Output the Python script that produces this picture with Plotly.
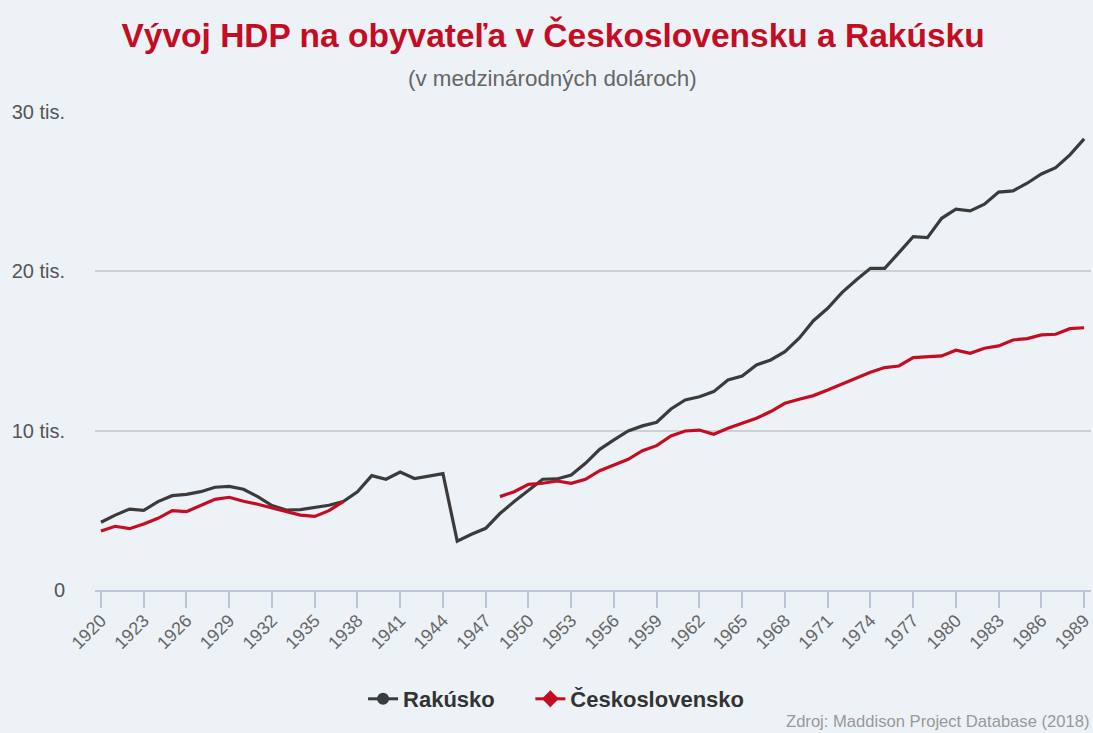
import plotly.graph_objects as go

years = list(range(1920, 1990))

rakusko = [4.25, 4.7, 5.08, 5.0, 5.55, 5.92, 6.0, 6.17, 6.45, 6.5,
           6.32, 5.86, 5.3, 5.02, 5.05, 5.17, 5.32, 5.55, 6.17, 7.18,
           6.95, 7.4, 7.0, 7.15, 7.3, 3.07, 3.5, 3.87, 4.8, 5.55,
           6.28, 6.95, 6.97, 7.22, 7.95, 8.83, 9.42, 9.98, 10.3, 10.53,
           11.36, 11.93, 12.13, 12.45, 13.18, 13.43, 14.12, 14.44, 14.96, 15.8,
           16.9, 17.68, 18.66, 19.46, 20.19, 20.19, 21.17, 22.18, 22.11, 23.33,
           23.9, 23.79, 24.21, 24.97, 25.05, 25.53, 26.11, 26.51, 27.31, 28.31]

ceskoslovensko = [3.7, 4.0, 3.85, 4.14, 4.5, 4.98, 4.92, 5.3, 5.69, 5.82,
                  5.57, 5.38, 5.17, 4.92, 4.7, 4.62, 4.98, 5.55, None, None,
                  None, None, None, None, None, None, None, None, 5.86, 6.17,
                  6.63, 6.7, 6.84, 6.7, 6.95, 7.49, 7.85, 8.2, 8.74, 9.06,
                  9.67, 9.98, 10.04, 9.77, 10.15, 10.46, 10.78, 11.2, 11.72, 11.97,
                  12.2, 12.55, 12.93, 13.29, 13.67, 13.96, 14.06, 14.58, 14.65, 14.69,
                  15.05, 14.86, 15.17, 15.32, 15.69, 15.78, 16.01, 16.05, 16.4, 16.46]

series_names = ["Rakúsko", "Československo"]
y_tick_vals = [0, 10000, 20000, 30000]
y_tick_text = ["0", "10 tis.", "20 tis.", "30 tis."]
x_tick_vals = list(range(1920, 1990, 3))

title_text = "Vývoj HDP na obyvateľa v Československu a Rakúsku"
subtitle_text = "(v medzinárodných dolároch)"
source_text = "Zdroj: Maddison Project Database (2018)"

BLACK = "#3b3b3b"
RED = "#c40d22"
BG = "#edf2f7"
FONT = "Liberation Sans, Arial, sans-serif"

fig = go.Figure()
fig.add_trace(go.Scatter(x=years, y=[v * 1000 for v in rakusko], mode="lines",
                         line=dict(color=BLACK, width=3.2), showlegend=False,
                         name=series_names[0]))
fig.add_trace(go.Scatter(x=years, y=[None if v is None else v * 1000 for v in ceskoslovensko],
                         mode="lines", line=dict(color=RED, width=3.2), showlegend=False,
                         connectgaps=False, name=series_names[1]))
# legend entries
fig.add_trace(go.Scatter(x=[None], y=[None], mode="lines+markers",
                         name=f"<b>{series_names[0]}</b>" + "\u00a0" * 5,
                         line=dict(color=BLACK, width=3),
                         marker=dict(symbol="circle", size=12, color=BLACK)))
fig.add_trace(go.Scatter(x=[None], y=[None], mode="lines+markers",
                         name=f"<b>{series_names[1]}</b>",
                         line=dict(color=RED, width=3),
                         marker=dict(symbol="diamond", size=13, color=RED)))

TOP, BOTTOM, LEFT = 112, 143, 95
plot_h = 733 - TOP - BOTTOM
plot_w = 1093 - LEFT
cx = (553 - LEFT) / plot_w

fig.update_layout(
    width=1093, height=733,
    paper_bgcolor=BG, plot_bgcolor=BG,
    margin=dict(l=LEFT, r=0, t=TOP, b=BOTTOM),
    font=dict(family=FONT, color="#555555"),
    title=dict(text=f"<b>{title_text}</b>", x=0.506, xanchor="center",
               y=1 - 35 / 733, yanchor="middle",
               font=dict(size=33.5, color=RED, family=FONT)),
    showlegend=True,
    legend=dict(orientation="h", x=cx + 0.004, xanchor="center",
                y=-(699 - 590) / plot_h, yanchor="middle",
                font=dict(size=22, color="#333333", family=FONT),
                bgcolor="rgba(0,0,0,0)"),
    xaxis=dict(range=[1919.58, 1989.48], tickvals=x_tick_vals, tickangle=-45,
               tickfont=dict(size=18, color="#666666"), showgrid=False, zeroline=False,
               showline=True, linecolor="#bcc5d6", linewidth=2,
               ticks="outside", ticklen=16, tickcolor="#bcc5d6", tickwidth=2,
               ticklabeloverflow="allow", ticklabelstandoff=-5),
    yaxis=dict(range=[0, 30000], tickvals=y_tick_vals, ticktext=y_tick_text,
               tickfont=dict(size=20, color="#555555"), showgrid=True,
               gridcolor="#cdd0d4", gridwidth=1.5, zeroline=False, showline=False,
               ticks="", ticklabelstandoff=29),
    annotations=[
        dict(text=subtitle_text, x=cx, xref="paper", xanchor="center",
             y=1 + (TOP - 78) / plot_h, yref="paper", yanchor="middle",
             showarrow=False, font=dict(size=22.4, color="#666666", family=FONT)),
        dict(text=source_text, x=1.0, xref="paper", xanchor="right",
             y=-(721 - 590) / plot_h, yref="paper", yanchor="middle",
             showarrow=False, font=dict(size=16.6, color="#999999", family=FONT)),
    ],
)

fig.write_html("out.html", config={"displayModeBar": False},
               post_script="document.body.style.margin='0';document.body.style.overflow='hidden';")
